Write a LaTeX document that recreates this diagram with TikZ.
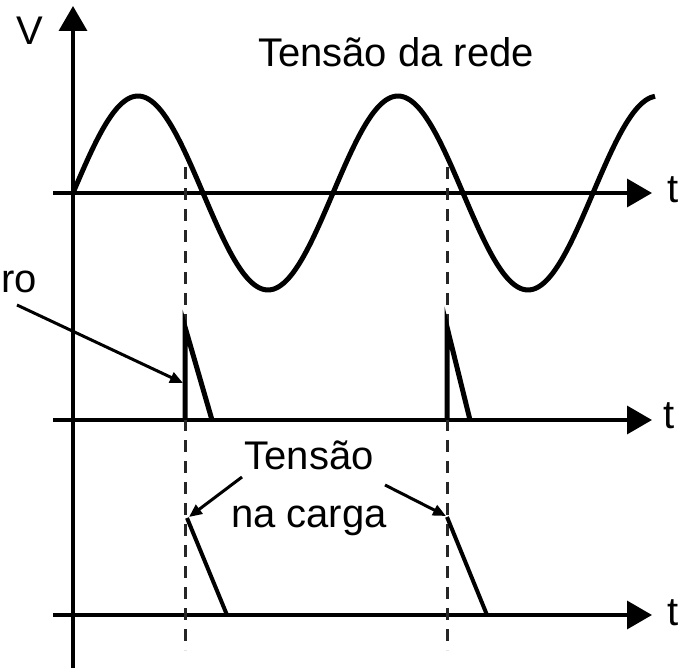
\documentclass[tikz,border=0pt]{standalone}
\usepackage{fontspec}
\setmainfont{Liberation Sans}
\usetikzlibrary{arrows.meta}

\begin{document}
\begin{tikzpicture}[x=1pt, y=-1pt, >={Triangle[length=25pt,width=28pt]},
    axis/.style={line width=3.5pt, ->},
    wave/.style={line width=5pt, line join=round},
    guide/.style={line width=3pt, black!85, dash pattern=on 12pt off 9pt},
    pointer/.style={line width=3pt, -{Triangle[length=13pt,width=11pt]}},
    lbl/.style={inner sep=0pt, font=\fontsize{40}{58}\selectfont}]
      \useasboundingbox (0,0) rectangle (681,668);

      % axes
      \coordinate (vbot) at (73,668);
      \coordinate (vtop) at (73,6);
      \coordinate (netL) at (53,193);
      \coordinate (netR) at (652,193);
      \coordinate (pulL) at (53,420);
      \coordinate (pulR) at (652,420);
      \coordinate (loadL) at (53,615);
      \coordinate (loadR) at (652,615);
      \draw [axis] (vbot) -- (vtop);
      \draw [axis] (netL) -- (netR);
      \draw [axis] (pulL) -- (pulR);
      \draw [axis] (loadL) -- (loadR);

      \node [lbl, anchor=base] (vlabel) at (30,45) {V};
      \node [lbl, anchor=base] (t1) at (673,203) {t};
      \node [lbl, anchor=base] (t2) at (669,429) {t};
      \node [lbl, anchor=base] (t3) at (673,626) {t};

      % dashed guides
      \coordinate (g1top) at (185,167);
      \coordinate (g1bot) at (185,650);
      \coordinate (g2top) at (447,167);
      \coordinate (g2bot) at (447,650);
      \draw [guide] (g1top) -- (g1bot);
      \draw [guide] (g2top) -- (g2bot);

      % mains voltage
      \draw [wave, domain=73:655, samples=120, smooth] plot (\x, {193-97*sin((\x-73)/260*360)});
      \node [lbl, anchor=base west] (rede) at (258,67) {Tensão da rede};

      % trigger pulses
      \draw [wave, line join=miter] (185,420) -- (185,327) -- (212,420);
      \draw [wave, line join=miter] (447,420) -- (447,327) -- (470,420);
      \node [lbl, anchor=base east] (ro) at (37,293) {ro};
      \coordinate (roend) at (183,383);
      \draw [pointer] (17,305) -- (roend);

      % load voltage
      \draw [line width=4pt] (187,518) -- (227,615);
      \draw [line width=4pt] (447,517) -- (487,615);
      \node [lbl, anchor=north, align=center] (carga) at (309,441) {Tensão\\na carga};
      \coordinate (c1) at (189,517);
      \coordinate (c2) at (446,516);
      \draw [pointer] (242,477) -- (c1);
      \draw [pointer] (385,485) -- (c2);
    \end{tikzpicture}
\end{document}
